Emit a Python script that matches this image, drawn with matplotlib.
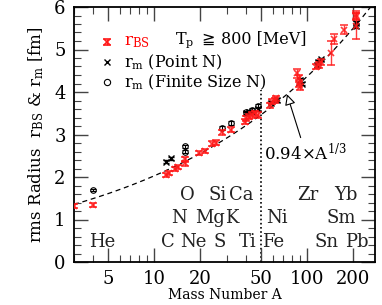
import numpy as np
import matplotlib
matplotlib.use("Agg")
import matplotlib.pyplot as plt
from matplotlib.ticker import FixedLocator, NullFormatter, FixedFormatter, MultipleLocator

plt.rcParams['font.family'] = ['DejaVu Serif', 'DejaVu Sans']
plt.rcParams['mathtext.fontset'] = 'dejavuserif'

# r_BS (red), from picture
bs_A = [3, 4, 12, 12.6, 13.7, 14.4, 16, 16, 19.8, 21.5, 23.8, 25.4, 28, 32,
        39.5, 40, 42, 44, 46, 48, 57.4, 58.8, 61.7, 63,
        86, 88, 89, 90, 114, 120, 124, 144, 150, 174, 208, 208, 208]
bs_r = [1.32, 1.34, 2.05, 2.10, 2.18, 2.24, 2.32, 2.42, 2.57, 2.62, 2.78, 2.81, 3.05, 3.11,
        3.30, 3.38, 3.42, 3.46, 3.50, 3.46, 3.69, 3.77, 3.81, 3.85,
        4.44, 4.32, 4.20, 4.12, 4.60, 4.64, 4.71, 4.91, 5.24, 5.47, 5.81, 5.77, 5.55]
bs_e = [0.04, 0.05, 0.05, 0.05, 0.05, 0.05, 0.06, 0.06, 0.05, 0.05, 0.06, 0.06, 0.06, 0.06,
        0.06, 0.06, 0.06, 0.06, 0.06, 0.06, 0.06, 0.06, 0.06, 0.06,
        0.10, 0.08, 0.08, 0.08, 0.07, 0.07, 0.07, 0.28, 0.12, 0.10, 0.10, 0.08, 0.30]

# r_m point-nucleon (black x)
pt_A = [12, 13, 40, 42, 44, 48, 58, 64, 90, 92, 116, 118, 124, 208, 208]
pt_r = [2.36, 2.44, 3.50, 3.54, 3.54, 3.60, 3.75, 3.81, 4.28, 4.20, 4.64, 4.71, 4.77, 5.62, 5.55]
pt_e = [0.04, 0.04, 0.04, 0.04, 0.04, 0.04, 0.04, 0.04, 0.04, 0.04, 0.04, 0.04, 0.04, 0.05, 0.05]

# r_m finite size nucleon (black circles)
fs_A = [4, 16, 16, 28, 32, 40, 44, 48]
fs_r = [1.69, 2.60, 2.72, 3.15, 3.27, 3.52, 3.58, 3.67]
fs_e = [0.03, 0.04, 0.04, 0.04, 0.04, 0.04, 0.04, 0.04]

elements = ['He', 'C', 'Ne', 'S', 'Ti', 'Fe', 'Sn', 'Pb',
            'N', 'Mg', 'K', 'Ni', 'Sm',
            'O', 'Si', 'Ca', 'Zr', 'Yb']
elem_A = [4.6, 12.35, 18.1, 27, 41.1, 60.4, 134, 212,
          14.6, 23.1, 32.1, 63.2, 167,
          16.4, 26, 37.3, 100.7, 180]
elem_row = [0, 0, 0, 0, 0, 0, 0, 0, 1, 1, 1, 1, 1, 2, 2, 2, 2, 2]
row_y = [0.47, 1.04, 1.57]

xticks = [5, 10, 20, 50, 100, 200]
xticklabels = ['5', '10', '20', '50', '100', '200']

fig = plt.figure(figsize=(3.82, 3.05), dpi=100)
ax = fig.add_axes([74/382, 43/305, 301/382, 255/305])
ax.set_xscale('log')
ax.set_xlim(3.0, 278)
ax.set_ylim(0, 6)

Aline = np.geomspace(3.0, 278, 200)
ax.plot(Aline, 0.94 * Aline ** (1/3), color='black', lw=0.9, ls=(0, (4, 3)), zorder=1)
ax.plot([50, 50], [0, 4.05], color='black', lw=1.2, ls=(0, (1, 1.5)), zorder=1)

ax.errorbar(fs_A, fs_r, yerr=fs_e, fmt='o', mfc='none', mec='black', ecolor='black',
            ms=4, mew=0.8, elinewidth=0.8, capsize=2.5, capthick=0.8, zorder=3)
ax.errorbar(pt_A, pt_r, yerr=pt_e, fmt='x', color='black', ms=4.5, mew=1.0,
            elinewidth=0.8, capsize=2.5, capthick=0.8, zorder=4)
ax.errorbar(bs_A, bs_r, yerr=bs_e, fmt='x', color='#ff1a1a', ms=4.5, mew=1.2, alpha=0.85,
            elinewidth=1.0, capsize=3, capthick=1.0, zorder=5)

for name, a, row in zip(elements, elem_A, elem_row):
    ax.text(a, row_y[row], name, ha='center', va='center', fontsize=13, color='#222222')

ax.annotate('0.94×A$^{1/3}$', xy=(74, 0.94 * 74 ** (1/3)), xytext=(98, 2.55),
            ha='center', va='center', fontsize=12,
            arrowprops=dict(arrowstyle='-|>', fc='white', ec='black', lw=0.8,
                            mutation_scale=16, shrinkA=2, shrinkB=0))

# legend (manual)
ax.errorbar([0.110], [0.863], yerr=[0.012], fmt='x', color='#ff1a1a', ms=4.5, mew=1.2,
            elinewidth=1.0, capsize=3, capthick=1.0, transform=ax.transAxes, clip_on=False)
ax.plot([0.110], [0.784], 'x', color='black', ms=5, mew=1.0, transform=ax.transAxes)
ax.plot([0.110], [0.706], 'o', mfc='none', mec='black', ms=4.5, mew=0.8, transform=ax.transAxes)
ax.text(0.165, 0.863, r'r$_{\rm BS}$', color='red', fontsize=12, va='center', transform=ax.transAxes)
ax.text(0.335, 0.870, r'T$_{\rm p}$', color='black', fontsize=11.5, va='center',
        transform=ax.transAxes)
ax.text(0.422, 0.875, '≧', color='black', fontsize=11.5, va='center',
        family=['DejaVu Sans'], transform=ax.transAxes)
ax.text(0.488, 0.875, '800 [MeV]', color='black', fontsize=11.5, va='center',
        transform=ax.transAxes)
ax.text(0.165, 0.784, r'r$_{\rm m}$ (Point N)', color='black', fontsize=11.5, va='center',
        transform=ax.transAxes)
ax.text(0.165, 0.706, r'r$_{\rm m}$ (Finite Size N)', color='black', fontsize=11.5, va='center',
        transform=ax.transAxes)

ax.xaxis.set_major_locator(FixedLocator(xticks))
ax.xaxis.set_major_formatter(FixedFormatter(xticklabels))
minors = [3, 4, 6, 7, 8, 9, 30, 40, 60, 70, 80, 90]
ax.xaxis.set_minor_locator(FixedLocator(minors))
ax.xaxis.set_minor_formatter(NullFormatter())
ax.yaxis.set_major_locator(MultipleLocator(1))
ax.yaxis.set_minor_locator(MultipleLocator(0.2))

ax.tick_params(which='both', direction='in', top=True, right=True, labelsize=13, color='#444444')
ax.tick_params(which='major', length=10, width=1.0, pad=6)
ax.tick_params(which='minor', length=5, width=0.8)
for s in ax.spines.values():
    s.set_linewidth(1.3)

ax.set_xlabel('Mass Number A', fontsize=10, labelpad=0)
ax.set_ylabel(r'rms Radius  r$_{\rm BS}$ & r$_{\rm m}$ [fm]', fontsize=12, labelpad=6)

fig.savefig('out.png', dpi=100)
